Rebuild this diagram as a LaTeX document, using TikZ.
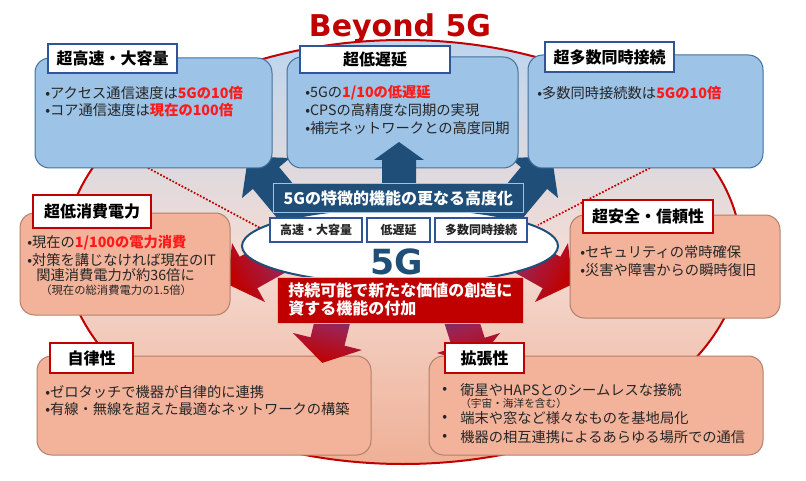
\documentclass[tikz,border=0pt]{standalone}
\usepackage{fontspec}
\setmainfont{Noto Sans CJK JP}
\newfontfamily\dvs{DejaVu Sans}
\usetikzlibrary{shapes.geometric}
\definecolor{topfill}{HTML}{9DC3E6}
\definecolor{topborder}{HTML}{41719C}
\definecolor{salfill}{HTML}{F3B39B}
\definecolor{salborder}{HTML}{B0806A}
\definecolor{labblue}{HTML}{2F5597}
\definecolor{navy}{HTML}{1F4E79}
\definecolor{darkred}{HTML}{C00000}
\definecolor{hired}{HTML}{FF1A1A}
\definecolor{txtc}{HTML}{262626}
\definecolor{ellTop}{HTML}{BDD5EE}
\definecolor{ellMid}{HTML}{F4DCD4}
\definecolor{ellBot}{HTML}{EFB096}
\definecolor{arrTail}{HTML}{3F4A8C}
\definecolor{arrMid}{HTML}{A0204C}
\newcommand\hl[1]{{\bfseries\color{hired}#1}}
\begin{document}
\begin{tikzpicture}[x=0.75pt,y=-0.75pt,
  box/.style={draw, rounded corners=11pt, anchor=north west, inner sep=0pt, outer sep=0pt, line width=0.75pt},
  bluebox/.style={box, fill=topfill, draw=topborder},
  salbox/.style={box, fill=salfill, draw=salborder},
  lab/.style={anchor=north west, fill=white, inner sep=0pt, outer sep=0pt, line width=1.5pt, font=\fontsize{12}{14}\selectfont\bfseries, text=black},
  lblue/.style={lab, draw=labblue},
  lred/.style={lab, draw=darkred},
  smallbox/.style={anchor=north west, fill=white, draw=labblue, line width=1.5pt, inner sep=0pt, outer sep=0pt, minimum height=18pt, font=\fontsize{9}{10}\selectfont\bfseries, text=txtc},
  txt/.style={anchor=west, inner sep=0pt, font=\fontsize{10.7}{12}\selectfont, text=txtc},
  smalltxt/.style={txt, font=\fontsize{8.5}{10}\selectfont},
  bluearrow/.style={fill=navy, draw=none},
  redarrow/.style={top color=darkred, bottom color=arrTail, middle color=arrMid, draw=none},
  dotline/.style={draw=darkred, line width=1.3pt, dash pattern=on 1.3pt off 1.3pt}
]
\useasboundingbox (0,0) rectangle (806,481);

% big background ellipse
\node[ellipse, minimum width=507pt, minimum height=318pt, top color=ellTop, bottom color=ellBot, middle color=ellMid, draw=darkred, line width=1.5pt] (big) at (403,252) {};

% dotted lines
\coordinate (d1a) at (148,168);
\coordinate (d1b) at (262,229);
\coordinate (d2a) at (650,168);
\coordinate (d2b) at (538,225);
\draw[dotline] (d1a) -- (d1b);
\draw[dotline] (d2a) -- (d2b);

% side blue arrows
\fill[bluearrow] (248.1,156.5) -- (242,198) -- (252.9,188.9) -- (297.7,242.7) -- (323.9,220.9) -- (279.1,167.1) -- (290,158) -- cycle;
\fill[bluearrow] (551.9,156.5) -- (558,198) -- (547.1,188.9) -- (502.3,242.7) -- (476.1,220.9) -- (520.9,167.1) -- (510,158) -- cycle;

% middle red arrows
\path[redarrow, shading angle=119] (227.5,284.2) -- (232,243) -- (239.7,256.8) -- (300.8,222.6) -- (318.4,254.0) -- (257.3,288.2) -- (265,302) -- cycle;
\path[redarrow, shading angle=241] (572.5,284.2) -- (568,243) -- (560.3,256.8) -- (499.2,222.6) -- (481.6,254.0) -- (542.7,288.2) -- (535,302) -- cycle;

% boxes
\node[bluebox, minimum width=177.75pt, minimum height=82.5pt] (B1) at (35,58) {};
\node[bluebox, minimum width=173.25pt, minimum height=83.25pt] (B2) at (287,57) {};
\node[bluebox, minimum width=176.25pt, minimum height=84.75pt] (B3) at (528,55) {};
\node[salbox, minimum width=157.5pt, minimum height=76.5pt] (B4) at (20,213) {};
\node[salbox, minimum width=157.5pt, minimum height=77.25pt] (B5) at (570,215) {};
\node[salbox, minimum width=250.5pt, minimum height=74.25pt] (B6) at (37,356) {};
\node[salbox, minimum width=250.5pt, minimum height=74.25pt] (B7) at (429,356) {};

% bottom red arrows
\path[redarrow, shading angle=166] (322.2,362.9) -- (293,333) -- (310.5,337.3) -- (321.3,293.6) -- (355.3,302.0) -- (344.5,345.7) -- (362,350) -- cycle;
\path[redarrow, shading angle=197] (475.2,364) -- (437,353) -- (452.3,348.1) -- (438.7,305.3) -- (471.1,295.0) -- (484.7,337.8) -- (500,333) -- cycle;

% center up arrow
\fill[bluearrow] (399,142) -- (424,160) -- (416,160) -- (416,190) -- (382,190) -- (382,160) -- (374,160) -- cycle;

% 5G ellipse
\node[ellipse, minimum width=237pt, minimum height=57pt, fill=white, draw=navy, line width=1.5pt] (g5) at (400,246) {};
\node[smallbox, minimum width=69pt] (s1) at (270,218) {高速・大容量};
\node[smallbox, minimum width=47.25pt] (s2) at (367,218) {低遅延};
\node[smallbox, minimum width=69pt] (s3) at (435,218) {多数同時接続};
\node[anchor=base, inner sep=0pt, text=navy, font=\dvs\fontsize{26}{28}\selectfont\bfseries] (g5t) at (397,274) {5G};

% banners
\node[anchor=north west, fill=navy, draw=topfill, line width=0.6pt, minimum width=187.5pt, minimum height=21.75pt, inner sep=0pt, text=white, font=\fontsize{12}{14}\selectfont\bfseries] (bb) at (273,183) {5Gの特徴的機能の更なる高度化};
\node[anchor=north west, fill=darkred, draw=salfill, line width=0.6pt, minimum width=184.5pt, minimum height=34.5pt, inner sep=0pt] (rb) at (277,277) {};
\node[anchor=west, inner sep=0pt, align=left, text=white, font=\fontsize{12}{13.5}\selectfont\bfseries] (rbt) at (288,299) {持続可能で新たな価値の創造に\\資する機能の付加};

% labels
\node[lblue, minimum width=96.75pt, minimum height=21.75pt] (L1) at (48,44) {超高速・大容量};
\node[lblue, minimum width=112.5pt, minimum height=20.25pt] (L2) at (300,46) {超低遅延};
\node[lblue, minimum width=96.75pt, minimum height=22.5pt] (L3) at (545,42) {超多数同時接続};
\node[lred, minimum width=88.5pt, minimum height=24.75pt] (L4) at (33,195) {超低消費電力};
\node[lred, minimum width=97.5pt, minimum height=24.75pt] (L5) at (583,200) {超安全・信頼性};
\node[lred, minimum width=62.25pt, minimum height=22.5pt] (L6) at (50,343) {自律性};
\node[lred, minimum width=59.25pt, minimum height=22.5pt] (L7) at (445,343) {拡張性};

% body texts
\node[txt] (t11) at (45,93) {•アクセス通信速度は\hl{5Gの10倍}};
\node[txt] (t12) at (45,110) {•コア通信速度は\hl{現在の100倍}};
\node[txt] (t21) at (305,93) {•5Gの\hl{1/10の低遅延}};
\node[txt] (t22) at (305,110) {•CPSの高精度な同期の実現};
\node[txt] (t23) at (305,128) {•補完ネットワークとの高度同期};
\node[txt] (t31) at (537,93) {•多数同時接続数は\hl{5Gの10倍}};
\node[txt] (t41) at (27,243) {•現在の\hl{1/100の電力消費}};
\node[txt] (t42) at (27,260) {•対策を講じなければ現在のIT};
\node[txt] (t43) at (36,275) {関連消費電力が約36倍に};
\node[smalltxt] (t44) at (40,290) {（現在の総消費電力の1.5倍）};
\node[txt] (t51) at (580,252) {•セキュリティの常時確保};
\node[txt] (t52) at (580,270) {•災害や障害からの瞬時復旧};
\node[txt] (t61) at (45,392) {•ゼロタッチで機器が自律的に連携};
\node[txt] (t62) at (45,409) {•有線・無線を超えた最適なネットワークの構築};
\node[txt] (b71) at (442,390) {•};
\node[txt] (b72) at (442,418) {•};
\node[txt] (b73) at (442,437) {•};
\node[txt] (t71) at (460,390) {衛星やHAPSとのシームレスな接続};
\node[smalltxt, font=\fontsize{8}{10}\selectfont] (t72) at (460,403) {（宇宙・海洋を含む）};
\node[txt] (t73) at (460,418) {端末や窓など様々なものを基地局化};
\node[txt] (t74) at (460,437) {機器の相互連携によるあらゆる場所での通信};

% title
\node[anchor=base, inner sep=0pt, text=darkred, font=\dvs\fontsize{22.5}{26}\selectfont\bfseries] (title) at (400,37) {Beyond 5G};
\end{tikzpicture}
\end{document}
